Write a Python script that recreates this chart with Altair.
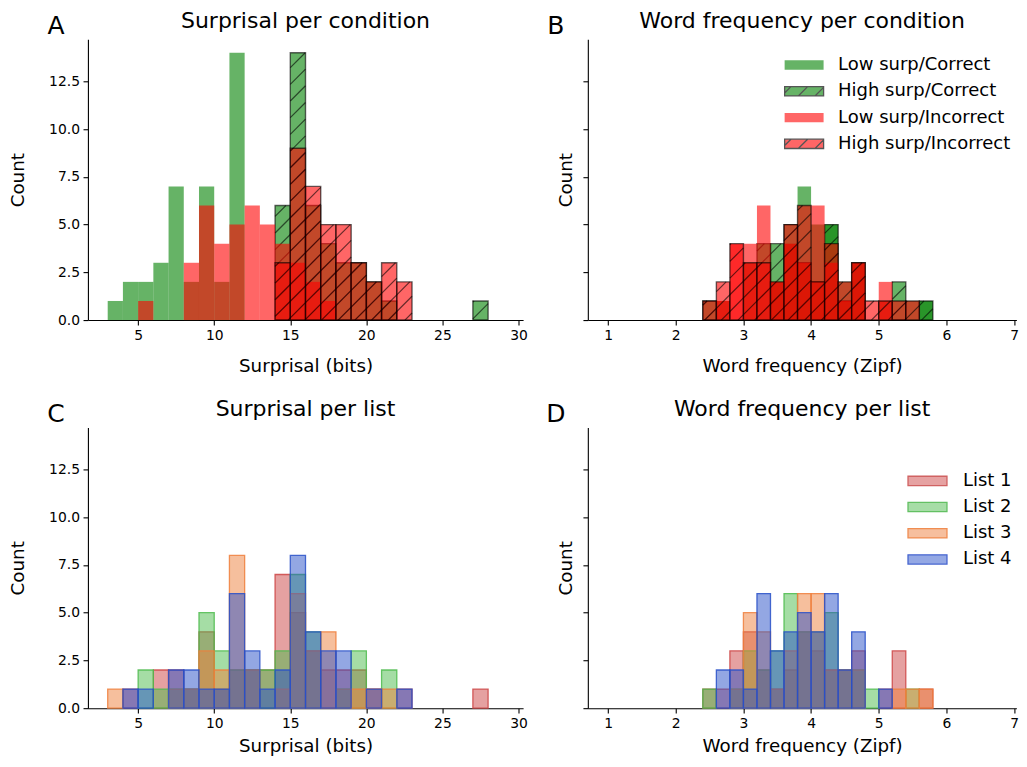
import altair as alt
import pandas as pd
import numpy as np

# ---------------- data ----------------
SURP_BIN_START = list(range(3, 29))          # 26 bins, width 1 bit
SURP_BIN_WIDTH = 1.0
WF_BIN_START = [2.4, 2.6, 2.8, 3.0, 3.2, 3.4, 3.6, 3.8, 4.0, 4.2, 4.4, 4.6, 4.8, 5.0, 5.2, 5.4, 5.6]
WF_BIN_WIDTH = 0.2

COND_NAMES = ["Low surp/Correct", "High surp/Correct", "Low surp/Incorrect", "High surp/Incorrect"]
LIST_NAMES = ["List 1", "List 2", "List 3", "List 4"]

# Surprisal per condition (counts per 1-bit bin, 3..29)
SURP_LOW_CORRECT = [1, 2, 2, 3, 7, 2, 7, 2, 14, 0, 0, 0, 0, 0, 0, 0, 0, 0, 0, 0, 0, 0, 0, 0, 0, 0]
SURP_HIGH_CORRECT = [0, 0, 0, 0, 0, 0, 0, 0, 0, 0, 0, 6, 14, 6, 4, 3, 3, 2, 1, 0, 0, 0, 0, 0, 1, 0]
SURP_LOW_INCORRECT = [0, 0, 1, 0, 0, 3, 6, 4, 5, 6, 5, 4, 3, 2, 1, 0, 0, 0, 0, 0, 0, 0, 0, 0, 0, 0]
SURP_HIGH_INCORRECT = [0, 0, 0, 0, 0, 0, 0, 0, 0, 0, 0, 3, 9, 7, 5, 5, 3, 2, 3, 2, 0, 0, 0, 0, 0, 0]

# Word frequency per condition (counts per 0.2 Zipf bin, 2.4..5.8)
WF_LOW_CORRECT = [0, 1, 0, 3, 0, 2, 4, 7, 5, 5, 2, 3, 0, 1, 0, 1, 1]
WF_HIGH_CORRECT = [1, 0, 0, 0, 4, 4, 5, 3, 2, 5, 1, 3, 0, 0, 2, 0, 1]
WF_LOW_INCORRECT = [0, 1, 4, 4, 6, 2, 4, 3, 6, 3, 1, 3, 0, 2, 0, 0, 0]
WF_HIGH_INCORRECT = [1, 2, 4, 3, 3, 2, 5, 6, 2, 4, 2, 3, 1, 1, 1, 1, 0]

# Surprisal per list
SURP_LIST1 = [0, 1, 0, 2, 2, 1, 4, 1, 2, 2, 2, 7, 5, 3, 2, 2, 2, 1, 0, 1, 0, 0, 0, 0, 1, 0]
SURP_LIST2 = [0, 0, 2, 1, 1, 1, 5, 3, 2, 2, 2, 3, 7, 4, 0, 1, 3, 0, 2, 0, 0, 0, 0, 0, 0, 0]
SURP_LIST3 = [1, 0, 0, 0, 1, 1, 3, 2, 8, 2, 0, 1, 6, 3, 4, 1, 1, 1, 1, 0, 0, 0, 0, 0, 0, 0]
SURP_LIST4 = [0, 1, 1, 0, 2, 2, 1, 1, 6, 3, 1, 2, 8, 4, 3, 3, 0, 1, 0, 1, 0, 0, 0, 0, 0, 0]

# Word frequency per list
WF_LIST1 = [1, 1, 3, 4, 2, 1, 2, 4, 3, 2, 2, 3, 0, 1, 3, 0, 1]
WF_LIST2 = [1, 0, 1, 3, 2, 3, 6, 4, 4, 5, 2, 2, 1, 0, 0, 1, 0]
WF_LIST3 = [0, 0, 1, 5, 4, 1, 3, 6, 6, 2, 2, 2, 0, 0, 1, 1, 1]
WF_LIST4 = [0, 2, 2, 1, 6, 3, 4, 5, 4, 6, 2, 4, 0, 1, 0, 0, 0]

SURP_TICKS = [5, 10, 15, 20, 25, 30]
WF_TICKS = [1, 2, 3, 4, 5, 6, 7]
COUNT_TICKS = [0, 2.5, 5, 7.5, 10, 12.5]

# ---------------- layout / style ----------------
FONT = "DejaVu Sans"
W_SURP, W_WF, H = 435.6, 429.0, 281.0
SURP_DOM = [1.7, 30.3]
WF_DOM = [0.7, 7.035]
Y_DOM = [0, 14.7]
HATCH_STEP = 16.7
TICK_FS, AXTITLE_FS, TITLE_FS, LETTER_FS, LEGEND_FS = 13.9, 18.3, 22.0, 25.0, 18.0

GREEN, RED = "green", "red"
LIST_COLORS = ["#cc4444", "#4cbb4c", "#ee7f3c", "#2850c8"]
LIST_LEGEND_FILL = ["#e6a2a2", "#a6dda6", "#f6bf9e", "#94a8e4"]
LIST_LEGEND_STROKE = ["#d06262", "#63c063", "#f08d52", "#4766cf"]

RECT_PATH = "M-3.9,-0.93H3.9V0.93H-3.9Z"
HATCH_PATH = RECT_PATH + "M-3.9,0.33L-2.64,-0.93M-1.16,0.93L0.7,-0.93M2.18,0.93L3.9,-0.79"


def bars(starts, width, counts):
    df = pd.DataFrame({"x0": starts, "n": counts})
    df["x1"] = df["x0"] + width
    return df[df["n"] > 0].reset_index(drop=True)


def hatch(df, dom, width):
    kx = width / (dom[1] - dom[0])
    ky = H / (Y_DOM[1] - Y_DOM[0])
    rows = []
    for x0, x1, n in zip(df["x0"], df["x1"], df["n"]):
        X0, X1, Y1 = (x0 - dom[0]) * kx, (x1 - dom[0]) * kx, n * ky
        for k in range(int(np.floor((X0 - Y1) / HATCH_STEP)) - 1, int(np.ceil(X1 / HATCH_STEP)) + 2):
            c = k * HATCH_STEP
            xs, xe = max(X0, c), min(X1, c + Y1)
            if xe - xs > 0.4:
                rows.append({"hx": dom[0] + xs / kx, "hy": (xs - c) / ky,
                             "hx2": dom[0] + xe / kx, "hy2": (xe - c) / ky})
    return pd.DataFrame(rows)


def encs(dom, xticks, xtitle, ylabels, xtitle_pad):
    xsc = alt.Scale(domain=dom, nice=False, zero=False)
    ysc = alt.Scale(domain=Y_DOM, nice=False)
    xax = alt.Axis(values=xticks, format="d", title=xtitle, titlePadding=xtitle_pad)
    if ylabels:
        yax = alt.Axis(values=COUNT_TICKS, format=".1f", title="Count", titlePadding=21)
    else:
        yax = alt.Axis(values=COUNT_TICKS, labels=False, title="Count", titlePadding=6.7)
    return xsc, ysc, xax, yax


def rect_layer(df, e, fill, fop, stroke=None, sop=0.0, sw=0.0):
    xsc, ysc, xax, yax = e
    kw = dict(fill=fill, fillOpacity=fop)
    if stroke:
        kw.update(stroke=stroke, strokeOpacity=sop, strokeWidth=sw)
    else:
        kw.update(strokeWidth=0)
    return alt.Chart(df).mark_rect(**kw).encode(
        x=alt.X("x0:Q", scale=xsc, axis=xax),
        x2="x1:Q",
        y=alt.Y("n:Q", scale=ysc, axis=yax),
        y2=alt.datum(0),
    )


def hatch_layer(df, e):
    xsc, ysc, xax, yax = e
    return alt.Chart(df).mark_rule(color="black", opacity=0.6, strokeWidth=1.2).encode(
        x=alt.X("hx:Q", scale=xsc, axis=xax),
        y=alt.Y("hy:Q", scale=ysc, axis=yax),
        x2="hx2:Q",
        y2="hy2:Q",
    )


def header_layers(letter, title, pw):
    # panel letter and panel title as real text
    l1 = alt.Chart(pd.DataFrame({"t": [letter]})).mark_text(
        font=FONT, fontSize=LETTER_FS, align="center", baseline="alphabetic", color="black"
    ).encode(text="t:N", x=alt.value(-32), y=alt.value(-5))
    l2 = alt.Chart(pd.DataFrame({"t": [title]})).mark_text(
        font=FONT, fontSize=TITLE_FS, align="center", baseline="alphabetic", color="black"
    ).encode(text="t:N", x=alt.value(pw / 2), y=alt.value(-11))
    return [l1, l2]


def condition_panel(starts, width, series, dom, pw, xticks, xtitle, ylabels, title, letter, legend, xtp):
    e = encs(dom, xticks, xtitle, ylabels, xtp)
    lc, hc, li, hi = [bars(starts, width, s) for s in series]
    layers = [
        rect_layer(lc, e, GREEN, 0.6),
        rect_layer(hc, e, GREEN, 0.6, "black", 0.6, 1.4),
        hatch_layer(hatch(hc, dom, pw), e),
        rect_layer(li, e, RED, 0.6),
        rect_layer(hi, e, RED, 0.6, "black", 0.6, 1.4),
        hatch_layer(hatch(hi, dom, pw), e),
    ] + header_layers(letter, title, pw)
    if legend:
        leg = alt.Legend(orient="none", legendX=207.5, legendY=16.7, title=None, symbolSize=100,
                         symbolStrokeWidth=1.3, labelFontSize=LEGEND_FS, labelFont=FONT, labelColor="black",
                         labelOffset=25, rowPadding=8.3, padding=0, symbolOpacity=1, labelLimit=0)
        ldf = pd.DataFrame({"cond": COND_NAMES})
        layers.append(
            alt.Chart(ldf).transform_filter("false").mark_point(filled=True, opacity=1).encode(
                fill=alt.Fill("cond:N", sort=None, legend=leg,
                              scale=alt.Scale(domain=COND_NAMES, range=["#66b366", "#66b366", "#ff6666", "#ff6666"])),
                stroke=alt.Stroke("cond:N", sort=None, legend=leg,
                                  scale=alt.Scale(domain=COND_NAMES, range=["transparent", "#555555", "transparent", "#555555"])),
                shape=alt.Shape("cond:N", sort=None, legend=leg,
                                scale=alt.Scale(domain=COND_NAMES, range=[RECT_PATH, HATCH_PATH, RECT_PATH, HATCH_PATH])),
            )
        )
    return alt.layer(*layers).properties(width=pw, height=H)


def list_panel(starts, width, series, dom, pw, xticks, xtitle, ylabels, title, letter, legend, xtp):
    e = encs(dom, xticks, xtitle, ylabels, xtp)
    layers = []
    for s, col in zip(series, LIST_COLORS):
        layers.append(rect_layer(bars(starts, width, s), e, col, 0.5, col, 0.85, 1.3))
    layers += header_layers(letter, title, pw)
    if legend:
        leg = alt.Legend(orient="none", legendX=331, legendY=44.5, title=None, symbolSize=100,
                         symbolType=RECT_PATH, symbolStrokeWidth=1.3, labelFontSize=LEGEND_FS, labelFont=FONT,
                         labelColor="black", labelOffset=26.5, rowPadding=8.2, padding=0, symbolOpacity=1,
                         labelLimit=0)
        ldf = pd.DataFrame({"lst": LIST_NAMES})
        layers.append(
            alt.Chart(ldf).transform_filter("false").mark_point(filled=True, opacity=1, shape=RECT_PATH).encode(
                fill=alt.Fill("lst:N", sort=None, legend=leg,
                              scale=alt.Scale(domain=LIST_NAMES, range=LIST_LEGEND_FILL)),
                stroke=alt.Stroke("lst:N", sort=None, legend=leg,
                                  scale=alt.Scale(domain=LIST_NAMES, range=LIST_LEGEND_STROKE)),
            )
        )
    return alt.layer(*layers).properties(width=pw, height=H)


pA = condition_panel(SURP_BIN_START, SURP_BIN_WIDTH,
                     [SURP_LOW_CORRECT, SURP_HIGH_CORRECT, SURP_LOW_INCORRECT, SURP_HIGH_INCORRECT],
                     SURP_DOM, W_SURP, SURP_TICKS, "Surprisal (bits)", True, "Surprisal per condition", "A",
                     False, 15.5)
pB = condition_panel(WF_BIN_START, WF_BIN_WIDTH,
                     [WF_LOW_CORRECT, WF_HIGH_CORRECT, WF_LOW_INCORRECT, WF_HIGH_INCORRECT],
                     WF_DOM, W_WF, WF_TICKS, "Word frequency (Zipf)", False, "Word frequency per condition", "B",
                     True, 15.5)
pC = list_panel(SURP_BIN_START, SURP_BIN_WIDTH, [SURP_LIST1, SURP_LIST2, SURP_LIST3, SURP_LIST4],
                SURP_DOM, W_SURP, SURP_TICKS, "Surprisal (bits)", True, "Surprisal per list", "C", False, 7.5)
pD = list_panel(WF_BIN_START, WF_BIN_WIDTH, [WF_LIST1, WF_LIST2, WF_LIST3, WF_LIST4],
                WF_DOM, W_WF, WF_TICKS, "Word frequency (Zipf)", False, "Word frequency per list", "D", True, 7.5)

chart = alt.concat(pA, pB, pC, pD, columns=2, spacing={"row": 107.5, "column": 64.4}, bounds="flush").resolve_scale(
    x="independent", y="independent", fill="independent", stroke="independent", shape="independent"
).resolve_legend(
    fill="independent", stroke="independent", shape="independent"
).properties(
    padding={"left": 0, "top": 2, "right": 0, "bottom": 0}
).configure(font=FONT).configure_view(stroke=None).configure_axis(
    labelFont=FONT, titleFont=FONT, labelFontSize=TICK_FS, titleFontSize=AXTITLE_FS, titleFontWeight="normal",
    labelColor="black", titleColor="black", domainColor="black", tickColor="black",
    domainWidth=1.1, tickWidth=1.1, tickSize=4.9, labelPadding=3.5, grid=False,
    labelFlush=False, labelOverlap=False,
).configure_legend(
    labelFont=FONT, labelFontSize=LEGEND_FS, labelLimit=0
)

chart.save("out.html", embed_options={"renderer": "svg", "actions": False})
